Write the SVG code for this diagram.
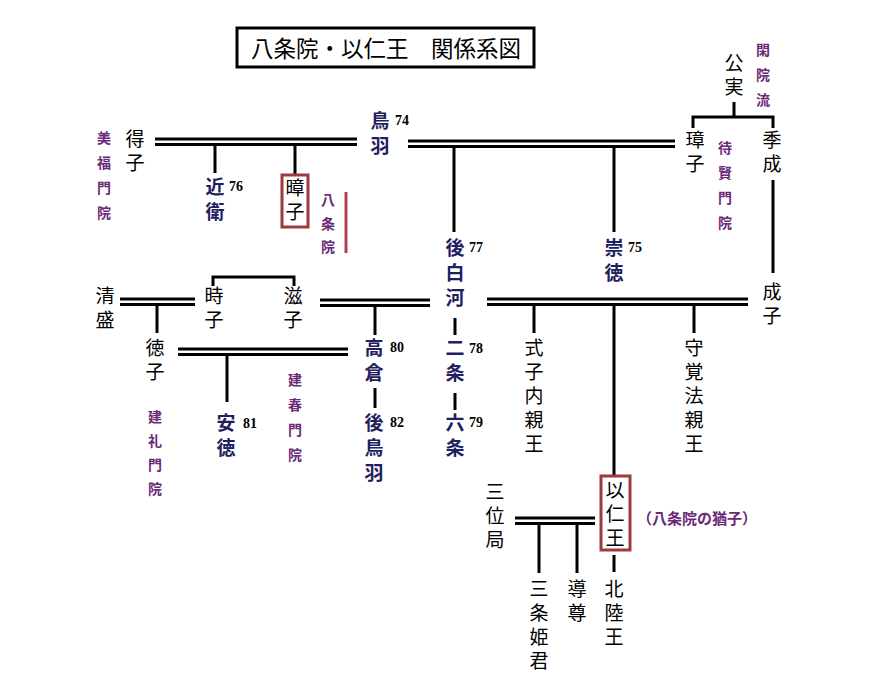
<svg xmlns="http://www.w3.org/2000/svg" width="880" height="684" viewBox="0 0 880 684">
<style>
text{dominant-baseline:central}
.v{writing-mode:vertical-rl;text-anchor:start}
.n{font-family:"Noto Sans CJK JP",sans-serif;font-size:19px;fill:#000;letter-spacing:5px}
.e{font-family:"Noto Sans CJK JP",sans-serif;font-size:19px;font-weight:bold;fill:#1f2060;letter-spacing:6px}
.p{font-family:"Noto Sans CJK JP",sans-serif;font-size:14px;font-weight:bold;fill:#6b2a78;letter-spacing:11px}
.num{font-family:"Liberation Serif",serif;font-size:14px;font-weight:bold;fill:#000;text-anchor:start}
.l{stroke:#000;stroke-width:3;fill:none}
.box{stroke:#9c3a3e;stroke-width:3;fill:none}
</style>
<rect width="880" height="684" fill="#fff"/>
<g id="title">
<rect x="237" y="28" width="297" height="39" fill="none" stroke="#000" stroke-width="3"/>
<text x="386" y="47" style="font-family:'Noto Sans CJK JP',sans-serif;font-size:22.5px;text-anchor:middle">八条院・以仁王　関係系図</text>
</g>
<g id="connectors">
<path class="l" d="M155 139H357M155 144.5H357"/>
<path class="l" d="M215 144.5V173M295 144.5V174"/>
<path class="l" d="M408 141H675M408 146.5H675"/>
<path class="l" d="M454 146.5V232M614 146.5V232"/>
<path class="l" d="M734 102V117M693 117H773M693 115.5V128M773 115.5V128"/>
<path class="l" d="M773 180V273"/>
<path class="l" d="M120 299H195M120 304.5H195"/>
<path class="l" d="M157 304.5V333"/>
<path class="l" d="M213 286V277H294V286"/>
<path class="l" d="M320 300H430M320 305.5H430"/>
<path class="l" d="M375 305.5V335"/>
<path class="l" d="M178 349H348M178 354.5H348"/>
<path class="l" d="M227 354.5V402"/>
<path class="l" d="M375 388V408"/>
<path class="l" d="M455 318V335M455 393V410"/>
<path class="l" d="M487 299H748M487 304.5H748"/>
<path class="l" d="M534 304.5V333M694 304.5V333M614 304.5V475"/>
<path class="l" d="M515 518H595M515 523.5H595"/>
<path class="l" d="M539 523.5V573M577 523.5V573M614 555V572"/>
<path d="M346 192V253" stroke="#b04050" stroke-width="3"/>
</g>
<g id="node-tokushi"><text class="n v" x="135" y="129.5">得子</text></g>
<g id="label-bifukumonin"><text class="p v" x="104" y="131">美福門院</text></g>
<g id="node-konoe"><text class="e v" x="215" y="177.5">近衛</text><text class="num" x="229" y="186">76</text></g>
<g id="node-shoshi"><rect class="box" x="282" y="175" width="26" height="52"/><text class="n v" x="295" y="178.5">暲子</text></g>
<g id="label-hachijoin"><text class="p v" style="letter-spacing:9.5px" x="328" y="193">八条院</text></g>
<g id="node-toba"><text class="e v" x="380" y="111.5">鳥羽</text><text class="num" x="395" y="120">74</text></g>
<g id="node-kinzane"><text class="n v" x="734" y="53.5">公実</text></g>
<g id="label-kanin"><text class="p v" x="763" y="43">閑院流</text></g>
<g id="node-tamako"><text class="n v" x="695" y="130.5">璋子</text></g>
<g id="label-taikenmonin"><text class="p v" x="725" y="141">待賢門院</text></g>
<g id="node-suenari"><text class="n v" x="772" y="130.5">季成</text></g>
<g id="node-goshirakawa"><text class="e v" x="455" y="238.5">後白河</text><text class="num" x="469" y="247">77</text></g>
<g id="node-sutoku"><text class="e v" x="614" y="238.5">崇徳</text><text class="num" x="628" y="247">75</text></g>
<g id="node-shigeko"><text class="n v" x="772" y="282.5">成子</text></g>
<g id="node-kiyomori"><text class="n v" x="105" y="286.5">清盛</text></g>
<g id="node-tokiko"><text class="n v" x="214" y="286.5">時子</text></g>
<g id="node-shigeko2"><text class="n v" x="293" y="286.5">滋子</text></g>
<g id="node-tokuko"><text class="n v" x="155" y="338.5">徳子</text></g>
<g id="label-kenreimonin"><text class="p v" style="letter-spacing:10px" x="155" y="410">建礼門院</text></g>
<g id="node-antoku"><text class="e v" x="226" y="413.5">安徳</text><text class="num" x="243" y="423">81</text></g>
<g id="label-kenshunmonin"><text class="p v" x="295" y="373">建春門院</text></g>
<g id="node-takakura"><text class="e v" x="374" y="338.5">高倉</text><text class="num" x="390" y="347">80</text></g>
<g id="node-gotoba"><text class="e v" x="374" y="413.5">後鳥羽</text><text class="num" x="390" y="422">82</text></g>
<g id="node-nijo"><text class="e v" x="455" y="338.5">二条</text><text class="num" x="469" y="348">78</text></g>
<g id="node-rokujo"><text class="e v" x="455" y="413">六条</text><text class="num" x="469" y="422">79</text></g>
<g id="node-shikishi"><text class="n v" x="534" y="338.5">式子内親王</text></g>
<g id="node-shukaku"><text class="n v" x="694" y="338.5">守覚法親王</text></g>
<g id="node-mochihito"><rect class="box" x="601" y="476" width="29" height="74"/><text class="n v" x="615" y="480.5">以仁王</text></g>
<g id="label-yushi"><text x="697" y="517" style="font-family:'Noto Sans CJK JP',sans-serif;font-size:15px;font-weight:bold;fill:#6b2a78;text-anchor:middle">（八条院の猶子）</text></g>
<g id="node-sanmi"><text class="n v" x="495" y="482.5">三位局</text></g>
<g id="node-sanjohimegimi"><text class="n v" x="539" y="579.5">三条姫君</text></g>
<g id="node-doson"><text class="n v" x="577" y="579.5">導尊</text></g>
<g id="node-hokurikuo"><text class="n v" x="614" y="579.5">北陸王</text></g>
</svg>
